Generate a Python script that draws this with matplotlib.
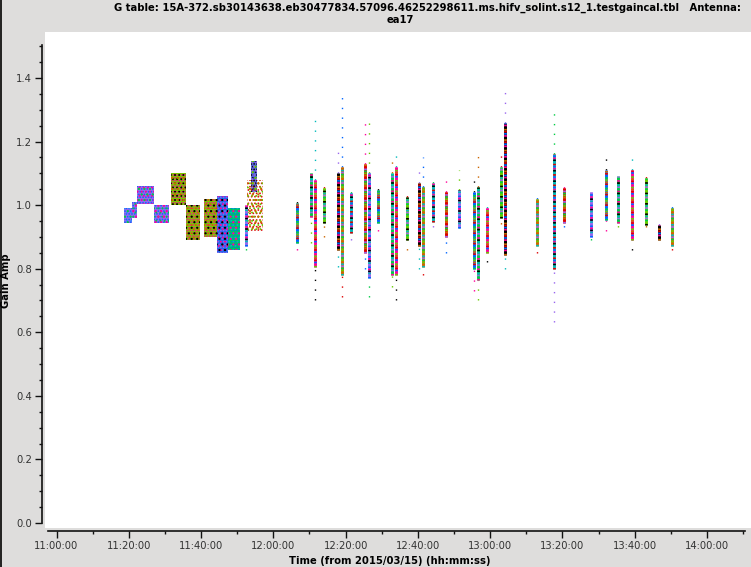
import matplotlib
matplotlib.use("Agg")
import matplotlib.pyplot as plt
from matplotlib.ticker import MultipleLocator, FuncFormatter
from matplotlib.lines import Line2D

plt.rcParams['font.family'] = ['DejaVu Sans']
plt.rcParams['font.stretch'] = 'condensed'
plt.rcParams['lines.scale_dashes'] = False
plt.rcParams['hatch.linewidth'] = 0.8

# ---------------- data ----------------
# wide scans (11:18 - 11:57): start / end time (minutes after 11:00:00), amp range
blk_start = [18.8, 21.0, 22.4, 27.0, 31.7, 35.8, 40.8, 44.4, 47.5, 52.7, 53.8]
blk_end   = [21.0, 22.3, 26.9, 31.1, 35.8, 39.7, 44.4, 47.5, 50.8, 57.1, 55.4]
blk_lo    = [0.945, 0.960, 1.005, 0.945, 1.000, 0.890, 0.900, 0.850, 0.860, 0.920, 1.040]
blk_hi    = [0.990, 1.010, 1.060, 1.000, 1.100, 1.000, 1.020, 1.030, 0.990, 1.080, 1.140]

# styling of the wide scans: base colour (None = sparse) and speckle colours
blk_base  = ['#9966ee', '#9966ee', '#9966ee', '#9966ee', '#77cc00', '#77cc00',
             '#77cc00', '#2266ee', '#00cc55', None, '#5566dd']
blk_spk   = [['#0066ff', '#3388ff', '#00cc44'],
             ['#0066ff', '#00cc44', '#ff0099'],
             ['#0066ff', '#ff0099', '#00cc44'],
             ['#0066ff', '#00cc44', '#ff0099'],
             ['#ff0099', '#000000', '#cc6600'],
             ['#ff0099', '#cc6600', '#000000'],
             ['#ff0099', '#cc6600', '#000000'],
             ['#9966ee', '#ff0099', '#000000'],
             ['#0066ff', '#00bbbb', '#ff0099'],
             ['#dd0000', '#66cc00', '#cc6600'],
             ['#000000', '#9966ee', '#66cc00']]

# narrow scans: time (minutes after 11:00:00), dense range, full range
scan_t       = [52.4, 66.5, 70.3, 71.6, 73.9, 78.0, 78.9, 81.4, 85.4, 86.4, 89.0,
                92.7, 93.9, 97.0, 100.4, 101.3, 104.1, 107.8, 111.5, 115.5, 116.6,
                119.0, 122.9, 124.1, 133.0, 137.7, 140.5, 147.8, 152.0, 155.5,
                159.3, 163.0, 166.8, 170.4]
scan_core_lo = [0.870, 0.880, 0.963, 0.806, 0.943, 0.860, 0.780, 0.911, 0.850, 0.770, 0.943,
                0.780, 0.780, 0.890, 0.870, 0.806, 0.948, 0.900, 0.928, 0.800, 0.764,
                0.850, 0.960, 0.843, 0.870, 0.800, 0.943, 0.900, 0.953, 0.943,
                0.890, 0.937, 0.890, 0.870]
scan_core_hi = [1.000, 1.006, 1.100, 1.079, 1.053, 1.100, 1.120, 1.037, 1.130, 1.100, 1.047,
                1.100, 1.120, 1.026, 1.070, 1.058, 1.070, 1.040, 1.047, 1.040, 1.058,
                0.990, 1.120, 1.258, 1.020, 1.160, 1.053, 1.040, 1.110, 1.090,
                1.110, 1.085, 0.937, 0.990]
scan_out_lo  = [0.860, 0.860, 0.880, 0.700, 0.900, 0.806, 0.710, 0.890, 0.800, 0.710, 0.920,
                0.743, 0.700, 0.860, 0.800, 0.780, 0.930, 0.850, 0.930, 0.730, 0.700,
                0.820, 0.940, 0.800, 0.850, 0.632, 0.930, 0.890, 0.920, 0.930,
                0.860, 0.930, 0.890, 0.860]
scan_out_hi  = [1.000, 1.030, 1.100, 1.290, 1.070, 1.190, 1.350, 1.060, 1.270, 1.260, 1.060,
                1.140, 1.170, 1.040, 1.130, 1.150, 1.080, 1.100, 1.110, 1.100, 1.170,
                1.000, 1.160, 1.355, 1.030, 1.300, 1.080, 1.040, 1.160, 1.090,
                1.160, 1.090, 0.950, 1.000]

x_tick_minutes = list(range(0, 181, 20))
y_ticks = [0.0, 0.2, 0.4, 0.6, 0.8, 1.0, 1.2, 1.4]

title_line1 = "G table: 15A-372.sb30143638.eb30477834.57096.46252298611.ms.hifv_solint.s12_1.testgaincal.tbl   Antenna:"
title_line2 = "ea17"
x_label = "Time (from 2015/03/15) (hh:mm:ss)"
y_label = "Gain Amp"

palette = ['#9966ee', '#0066ff', '#00cc44', '#ff0099', '#66cc00', '#000000',
           '#cc6600', '#00bbbb', '#dd0000']

# ---------------- figure ----------------
W, H = 751, 567
fig = plt.figure(figsize=(W / 100, H / 100), dpi=100, facecolor='#dedddc')
ax = fig.add_axes([45 / W, (H - 528) / H, 706 / W, 496 / H])
ax.set_facecolor('white')

def px_to_min(px):
    return (px - 56.5) / 3.614

def px_to_amp(py):
    return (523 - py) / 317.9

ax.set_xlim(px_to_min(45), px_to_min(751))
ax.set_ylim(px_to_amp(528), px_to_amp(32))

# wide scans
for i in range(len(blk_start)):
    c = (blk_start[i] + blk_end[i]) / 2
    w = blk_end[i] - blk_start[i]
    h = blk_hi[i] - blk_lo[i]
    if blk_base[i] is not None:
        ax.bar(c, h, w, blk_lo[i], color=blk_base[i], linewidth=0, zorder=2)
        pats = ['.' * 6, '.' * 4, '.' * 3]
    else:
        pats = ['.' * 5, '.' * 4, '.' * 3]
    for k, col in enumerate(blk_spk[i]):
        ax.bar(c, h, w, blk_lo[i], facecolor='none', edgecolor=col, hatch=pats[k],
               linewidth=0, zorder=3 + k)

# narrow scans
for i, t in enumerate(scan_t):
    # sparse outliers
    ax.vlines(t, scan_out_lo[i], scan_core_lo[i], colors=palette[(i + 2) % 9],
              linewidth=1.0, linestyles=(0, (1, 6)), zorder=2)
    ax.vlines(t, scan_core_hi[i], scan_out_hi[i], colors=palette[(i + 4) % 9],
              linewidth=1.0, linestyles=(0, (1, 6)), zorder=2)
    # dense part, multicoloured
    ax.vlines(t, scan_core_lo[i], scan_core_hi[i], colors=palette[i % 9],
              linewidth=2.0, zorder=3)
    for k, off in enumerate([0, 1.5, 3, 4.5, 6]):
        ax.vlines(t, scan_core_lo[i], scan_core_hi[i],
                  colors=palette[(i + 1 + 2 * k) % 9], linewidth=2.0,
                  linestyles=(off, (1.2, 6.3)), zorder=4 + k)

# ---------------- axes styling ----------------
for s in ['top', 'right']:
    ax.spines[s].set_visible(False)
ax.spines['left'].set_position(('outward', 2.5))
ax.spines['bottom'].set_position(('outward', 2.5))
ax.spines['left'].set_bounds(0.0, 1.505)
ax.spines['bottom'].set_bounds(px_to_min(48), px_to_min(745))
for s in ['left', 'bottom']:
    ax.spines[s].set_linewidth(1.2)
    ax.spines[s].set_color('#111111')

ax.set_xticks(x_tick_minutes)
ax.xaxis.set_minor_locator(MultipleLocator(10))
ax.set_yticks(y_ticks)
ax.yaxis.set_minor_locator(MultipleLocator(0.05))

def fmt_time(m, pos=None):
    tot = int(round(m * 60)) + 11 * 3600
    return "%02d:%02d:%02d" % (tot // 3600, (tot % 3600) // 60, tot % 60)

ax.xaxis.set_major_formatter(FuncFormatter(fmt_time))
ax.yaxis.set_major_formatter(FuncFormatter(lambda v, p: "%.1f" % v))
ax.tick_params(axis='both', which='major', length=5, width=1, color='#111111',
               labelsize=8, labelcolor='#333333', pad=2)
ax.tick_params(axis='both', which='minor', length=2.5, width=1, color='#111111')

fig.text(6 / W, 1 - 281 / H, y_label, rotation=90, ha='center', va='center',
         fontsize=8, fontweight='bold')
fig.text(390 / W, 1 - 561 / H, x_label, ha='center', va='center',
         fontsize=8, fontweight='bold')
fig.text(427 / W, 1 - 8 / H, title_line1, ha='center', va='center',
         fontsize=8, fontweight='bold')
fig.text(400 / W, 1 - 20 / H, title_line2, ha='center', va='center',
         fontsize=8, fontweight='bold')

fig.add_artist(Line2D([0.5 / W, 0.5 / W], [0, 1], transform=fig.transFigure,
                      color='black', linewidth=1.2))

fig.savefig("out.png", dpi=100, facecolor=fig.get_facecolor())
